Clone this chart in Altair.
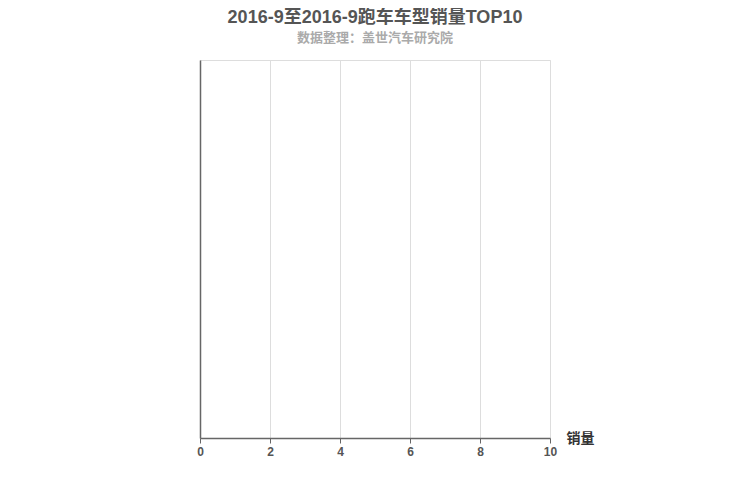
import altair as alt
import pandas as pd

# The reference shows an empty TOP10 chart: no models, no sales values
categories = []
sales = []
x_ticks = [0, 2, 4, 6, 8, 10]

title_text = "2016-9至2016-9跑车车型销量TOP10"
subtitle_text = "数据整理：盖世汽车研究院"

df = pd.DataFrame({"车型": pd.Series(categories, dtype="object"),
                   "销量": pd.Series(sales, dtype="float")})

FONT = "Liberation Sans, Noto Sans CJK SC, sans-serif"

chart = alt.Chart(df).mark_bar(color="#c23531").encode(
    x=alt.X("销量:Q",
            scale=alt.Scale(domain=[x_ticks[0], x_ticks[-1]], nice=False),
            axis=alt.Axis(values=x_ticks, title="销量", grid=True,
                          gridColor="#dddddd", gridWidth=1,
                          domainColor="#666666", domainWidth=1.5,
                          tickColor="#666666", tickSize=5, tickWidth=1,
                          labelColor="#555555", labelFontWeight="bold",
                          labelFontSize=12, labelPadding=3, labelFont=FONT,
                          labelFlush=False, labelOverlap=False,
                          titleFont=FONT, titleFontSize=14, titleFontWeight="bold",
                          titleColor="#333333", titleAlign="left",
                          titleBaseline="middle", titleX=366, titleY=0,
                          titleAngle=0)),
    y=alt.Y("车型:N", sort=categories,
            axis=alt.Axis(title=None, labels=False, grid=False,
                          domainColor="#666666", domainWidth=1.5,
                          tickColor="#666666", tickSize=4)),
).properties(
    width=350,
    height=378,
    autosize=alt.AutoSizeParams(type="none"),
    padding={"left": 192, "top": 52, "right": 192, "bottom": 54},
    title=alt.TitleParams(
        text=title_text, subtitle=subtitle_text, anchor="middle",
        font=FONT, fontSize=18, fontWeight="bold", color="#555555",
        subtitleFont=FONT, subtitleFontSize=13, subtitleFontWeight="bold",
        subtitleColor="#aaaaaa", subtitlePadding=5, offset=15,
    ),
).configure_view(stroke="#cccccc", strokeWidth=1).configure(background="white")

chart.save("out.html", embed_options={"renderer": "svg", "actions": False})
